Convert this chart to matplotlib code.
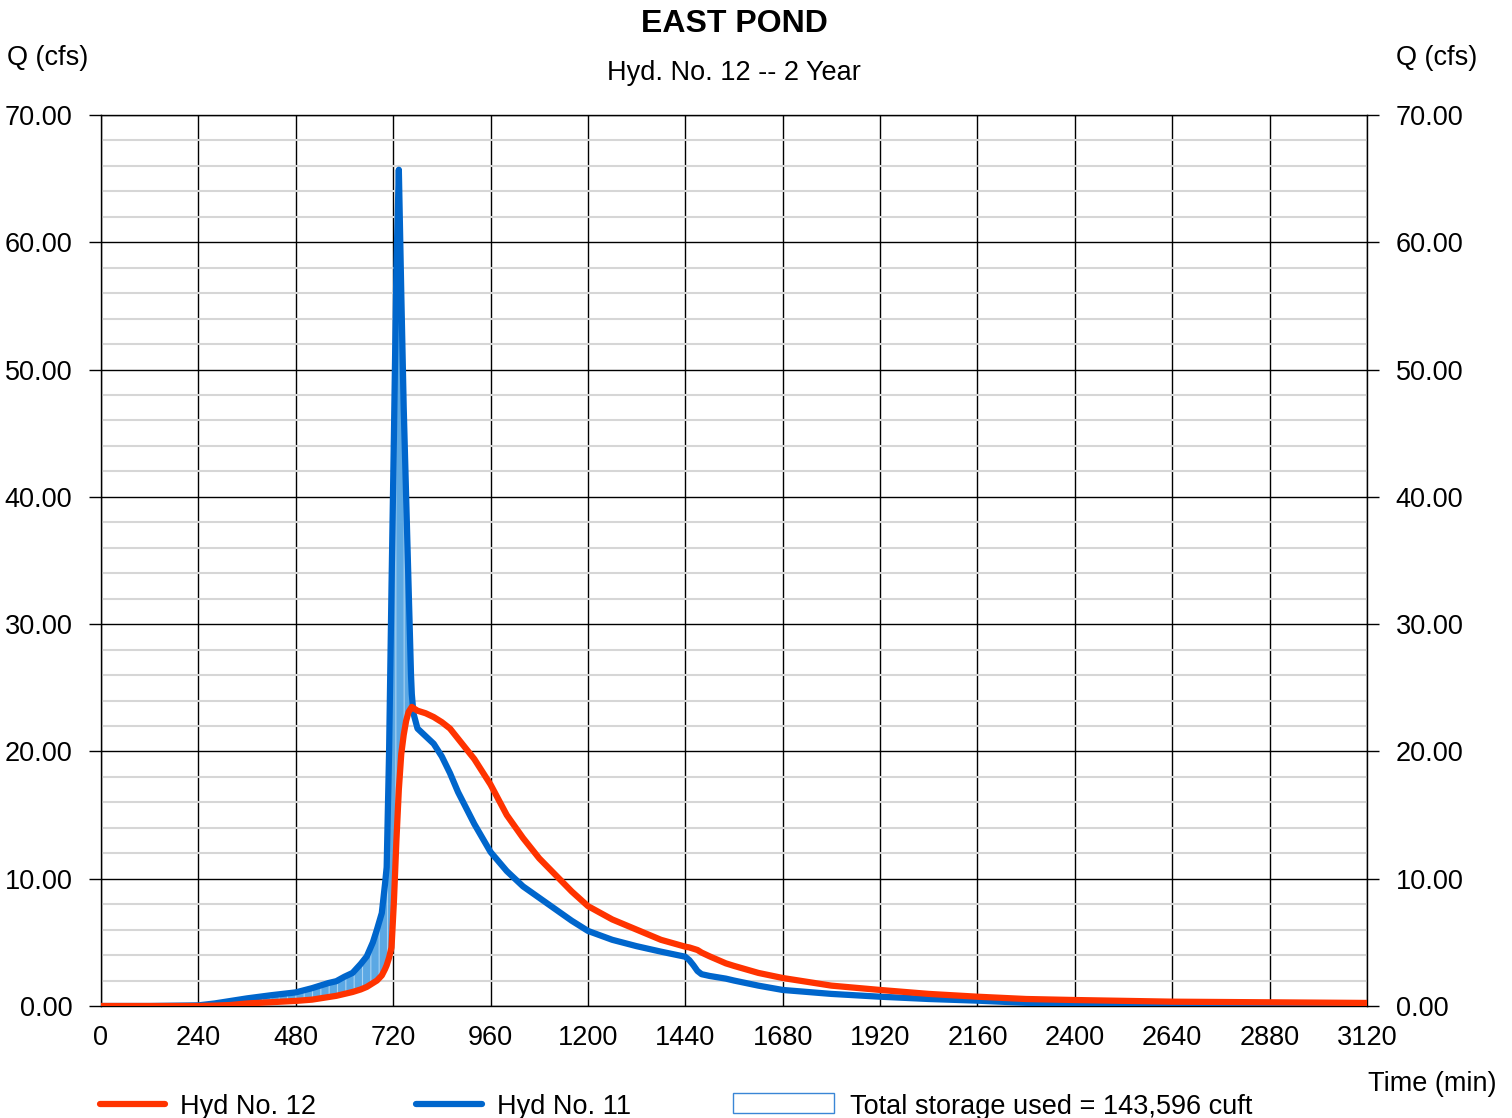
import matplotlib

matplotlib.use("Agg")
import matplotlib.pyplot as plt
import numpy as np
from matplotlib.lines import Line2D
from matplotlib.patches import Rectangle

plt.rcParams["font.family"] = ["Liberation Sans", "DejaVu Sans"]
plt.rcParams["hatch.linewidth"] = 0.8

# Hydrograph ordinates (min, cfs)
TIME_MIN = [0, 120, 240, 280, 320, 360, 420, 480, 520, 560, 580, 600, 620, 640,
            655, 670, 680, 692, 700, 704, 710, 716, 722, 728, 734, 740, 746, 752,
            758, 764, 766, 770, 780, 800, 820, 840, 860, 880, 920, 960, 1000,
            1040, 1080, 1120, 1160, 1200, 1260, 1320, 1380, 1440, 1450, 1460,
            1470, 1480, 1500, 1540, 1560, 1620, 1680, 1800, 1920, 2040, 2160,
            2280, 2400, 2640, 2880, 3120]

# Hyd No. 11 - inflow to pond
HYD_11 = [0.0, 0.0, 0.05, 0.2, 0.4, 0.6, 0.85, 1.07, 1.4, 1.8, 1.95, 2.3, 2.6,
          3.3, 3.9, 5.0, 6.0, 7.3, 9.6, 10.9, 20.0, 33.0, 45.0, 58.0, 65.7, 56.0,
          47.0, 40.0, 33.0, 26.0, 24.5, 23.0, 21.8, 21.2, 20.6, 19.6, 18.3, 16.8,
          14.3, 12.1, 10.6, 9.4, 8.5, 7.6, 6.7, 5.9, 5.2, 4.7, 4.27, 3.87, 3.6,
          3.2, 2.75, 2.5, 2.36, 2.15, 2.0, 1.6, 1.26, 0.95, 0.73, 0.55, 0.42,
          0.25, 0.16, 0.1, 0.07, 0.05]

# Hyd No. 12 - routed outflow
HYD_12 = [0.0, 0.0, 0.0, 0.03, 0.08, 0.2, 0.3, 0.4, 0.5, 0.7, 0.8, 0.95, 1.1,
          1.3, 1.5, 1.8, 2.0, 2.4, 2.9, 3.2, 3.8, 4.6, 8.3, 13.0, 17.0, 19.8,
          21.3, 22.4, 23.1, 23.4, 23.5, 23.4, 23.2, 23.0, 22.7, 22.3, 21.8, 21.0,
          19.4, 17.4, 15.0, 13.2, 11.6, 10.3, 9.0, 7.85, 6.8, 6.0, 5.2, 4.66, 4.6,
          4.5, 4.4, 4.2, 3.9, 3.35, 3.15, 2.6, 2.2, 1.6, 1.26, 0.95, 0.73, 0.55,
          0.47, 0.34, 0.29, 0.24]

X_TICKS = list(range(0, 3121, 240))
Y_TICKS = list(range(0, 71, 10))
STORAGE_CUFT = 143596

RED = "#ff3300"
BLUE = "#0066cc"
FS = 19.5


def fy(py):
    """Figure fraction for a pixel row measured from the top."""
    return 1 - py / 1118


t = np.array(TIME_MIN, dtype=float)
q_in = np.array(HYD_11)
q_out = np.array(HYD_12)

fig = plt.figure(figsize=(15.12, 11.18), dpi=100)
ax = fig.add_axes([101 / 1512, fy(1006), 1266 / 1512, 891 / 1118])

# storage used = area between inflow and outflow while inflow exceeds outflow
ax.fill_between(t, q_out, q_in, where=q_in >= q_out, interpolate=True,
                facecolor="#5ba8e4", edgecolor="#a8d2f2", hatch="||",
                linewidth=0, zorder=2)
ax.plot(t, q_in, color=BLUE, lw=4.5, solid_capstyle="round",
        solid_joinstyle="round", zorder=3)
ax.plot(t, q_out, color=RED, lw=4.5, solid_capstyle="round",
        solid_joinstyle="round", zorder=4)

ax.set_xlim(0, 3120)
ax.set_ylim(0, 70)
ax.set_xticks(X_TICKS)
ax.set_yticks(Y_TICKS)
ax.set_yticks(np.arange(0, 71, 2), minor=True)
ax.set_yticklabels([f"{v:.2f}" for v in Y_TICKS])
ax.set_xticklabels([str(v) for v in X_TICKS])

ax.grid(which="major", color="black", lw=1.0, zorder=1)
ax.grid(which="minor", axis="y", color="#d6d6d6", lw=1.5, zorder=0)
ax.set_axisbelow(True)

ax.tick_params(axis="y", which="major", direction="out", length=8.6, width=1,
               left=True, right=True, labelleft=True, labelright=True,
               labelsize=FS, pad=12)
ax.tick_params(axis="y", which="minor", length=0)
ax.tick_params(axis="x", length=0, labelsize=FS, pad=14)
for s in ax.spines.values():
    s.set_color("black")
    s.set_linewidth(1)

fig.text(734 / 1512, fy(24), "EAST POND", ha="center", va="center",
         fontsize=23, fontweight="bold")
fig.text(734 / 1512, fy(73), "Hyd. No. 12 -- 2 Year", ha="center",
         va="center", fontsize=19.5)
fig.text(7 / 1512, fy(58), "Q (cfs)", ha="left", va="center", fontsize=FS)
fig.text(1477 / 1512, fy(58), "Q (cfs)", ha="right", va="center", fontsize=FS)
fig.text(1496 / 1512, fy(1084), "Time (min)", ha="right", va="center",
         fontsize=FS)

# legend row along the bottom
fig.add_artist(Line2D([100 / 1512, 165 / 1512], [fy(1104), fy(1104)], color=RED,
                      lw=4.5, solid_capstyle="round"))
fig.add_artist(Line2D([416 / 1512, 482 / 1512], [fy(1104), fy(1104)], color=BLUE,
                      lw=4.5, solid_capstyle="round"))
fig.add_artist(Rectangle((733 / 1512, fy(1113)), 101 / 1512, 20 / 1118,
                         facecolor="white", edgecolor="#3a86d6", lw=1,
                         transform=fig.transFigure))
ty = fy(1107)
fig.text(180 / 1512, ty, "Hyd No. 12", ha="left", va="center", fontsize=FS)
fig.text(497 / 1512, ty, "Hyd No. 11", ha="left", va="center", fontsize=FS)
fig.text(850 / 1512, ty, f"Total storage used = {STORAGE_CUFT:,} cuft",
         ha="left", va="center", fontsize=FS)

fig.savefig("out.png", dpi=100)
